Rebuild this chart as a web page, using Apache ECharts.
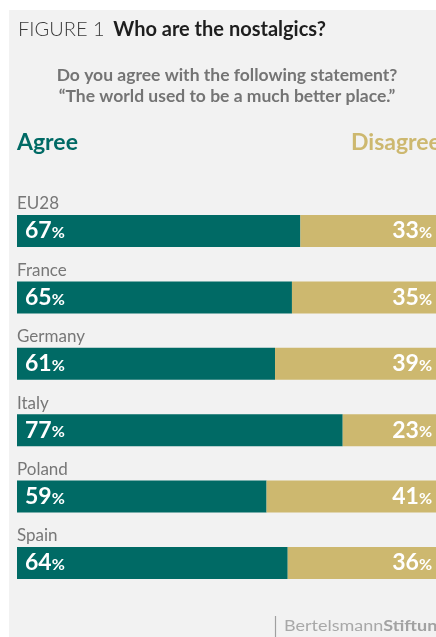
<!DOCTYPE html>
<html>
<head>
<meta charset="utf-8">
<title>Who are the nostalgics?</title>
<script src="https://cdn.jsdelivr.net/npm/echarts@6/dist/echarts.min.js"></script>
<style>
  html, body { margin: 0; padding: 0; background: #ffffff; overflow: hidden; width: 436px; height: 637px; }
  /* the figure runs a few pixels past the right edge of the page */
  #chart { width: 440px; height: 637px; }
</style>
</head>
<body>
<div id="chart"></div>
<script>
// Survey: "The world used to be a much better place." share agreeing / disagreeing
const countries = ['EU28', 'France', 'Germany', 'Italy', 'Poland', 'Spain'];
const agreeValues = [67, 65, 61, 77, 59, 64];
const disagreeValues = [33, 35, 39, 23, 41, 36];
const seriesNames = ['Agree', 'Disagree'];

const TEAL = '#006a65';
const GOLD = '#cdb86f';
const FONT = 'Lato, "Open Sans", sans-serif';

const chart = echarts.init(document.getElementById('chart'), null, { renderer: 'canvas' });

function pctLabel(p) {
  return '{n|' + p.value + '}{p|%}';
}
const pctRich = {
  n: { fontFamily: FONT, fontSize: 23, fontWeight: 'bold', color: '#ffffff' },
  p: { fontFamily: FONT, fontSize: 16, fontWeight: 'bold', color: '#ffffff', padding: [4, 0, 0, 0] }
};

chart.setOption({
  animation: false,
  backgroundColor: '#ffffff',
  textStyle: { fontFamily: FONT },
  title: [
    {
      left: 18,
      top: 20,
      padding: 0,
      text: '{a|FIGURE 1}  {b|Who are the nostalgics?}',
      textStyle: {
        rich: {
          a: { fontFamily: FONT, fontSize: 20, fontWeight: 300, color: '#3a3a3a' },
          b: { fontFamily: FONT, fontSize: 20, fontWeight: 'bold', color: '#1e1e1e' }
        }
      }
    },
    {
      left: 227,
      top: 65,
      padding: 0,
      textAlign: 'center',
      text: 'Do you agree with the following statement?\n\u201CThe world used to be a much better place.\u201D',
      textStyle: { fontFamily: FONT, fontSize: 17.5, fontWeight: 'bold', color: '#747474', lineHeight: 21 }
    }
  ],
  graphic: [
    {
      type: 'rect',
      z: -10,
      silent: true,
      shape: { x: 9, y: 10, width: 440, height: 630 },
      style: { fill: '#f2f2f2' }
    },
    {
      type: 'text',
      left: 17,
      top: 131,
      style: { text: seriesNames[0], fill: TEAL, font: 'bold 23px ' + FONT }
    },
    {
      type: 'text',
      left: 351,
      top: 131,
      style: { text: seriesNames[1], fill: GOLD, font: 'bold 23px ' + FONT }
    },
    {
      type: 'line',
      silent: true,
      shape: { x1: 275.5, y1: 616, x2: 275.5, y2: 637 },
      style: { stroke: '#a0a0a0', lineWidth: 1.2 }
    },
    {
      type: 'text',
      x: 284,
      y: 619,
      scaleX: 1.24,
      style: {
        text: '{a|Bertelsmann}{b|Stiftung}',
        fill: '#a6a6a6',
        rich: {
          a: { fontFamily: FONT, fontSize: 14.5, fill: '#a8a8a8' },
          b: { fontFamily: FONT, fontSize: 14.5, fontWeight: 'bold', fill: '#a2a2a2' }
        }
      }
    }
  ],
  grid: { left: 17, right: 0, top: 197.8, bottom: 40.8, containLabel: false },
  xAxis: {
    type: 'value',
    min: 0,
    max: 100,
    show: false
  },
  yAxis: {
    type: 'category',
    data: countries,
    inverse: true,
    z: 5,
    axisLine: { show: false },
    axisTick: { show: false },
    splitLine: { show: false },
    axisLabel: {
      inside: true,
      margin: 0,
      align: 'left',
      verticalAlign: 'middle',
      formatter: function (v) { return '{c|' + v + '}'; },
      rich: {
        c: { fontFamily: FONT, fontSize: 17, color: '#777777', padding: [0, 0, 54, 0] }
      }
    }
  },
  series: [
    {
      name: seriesNames[0],
      type: 'bar',
      stack: 'total',
      barWidth: 32,
      data: agreeValues,
      itemStyle: { color: TEAL },
      label: {
        show: true,
        position: 'insideLeft',
        distance: 8,
        formatter: pctLabel,
        rich: pctRich
      }
    },
    {
      name: seriesNames[1],
      type: 'bar',
      stack: 'total',
      barWidth: 32,
      data: disagreeValues,
      itemStyle: { color: GOLD },
      label: {
        show: true,
        position: 'insideRight',
        distance: 8,
        formatter: pctLabel,
        rich: pctRich
      }
    }
  ]
});
</script>
</body>
</html>
